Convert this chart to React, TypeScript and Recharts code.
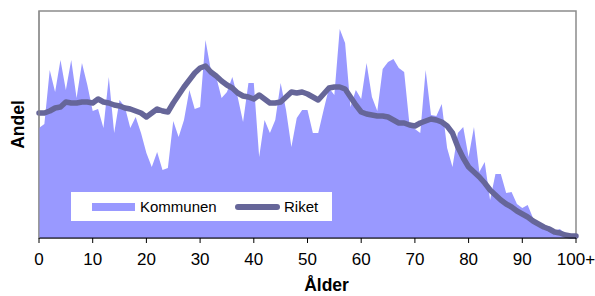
import { ComposedChart, Area, Line, XAxis, YAxis, Legend, ReferenceArea } from "recharts";

// andel per ålder 0..100+ (godtycklig skala)
const kommunen = [
  110, 114, 168, 146, 178, 148, 178, 140, 175, 153,
  127, 129, 110, 161, 105, 138, 131, 110, 121, 105,
  85, 71, 86, 68, 70, 117, 101, 118, 148, 129,
  131, 198, 168, 161, 140, 146, 161, 141, 116, 155,
  155, 81, 118, 105, 118, 155, 128, 91, 120, 128,
  128, 105, 105, 128, 150, 143, 209, 195, 131, 148,
  139, 175, 141, 127, 169, 176, 179, 170, 166, 113,
  109, 105, 168, 123, 122, 134, 90, 71, 105, 111,
  81, 111, 66, 76, 38, 64, 64, 45, 46, 34,
  30, 33, 20, 15, 11, 12, 7, 9, 4, 3,
  1,
];

const riket = [
  125, 125, 127, 130, 131, 136, 135, 135, 136, 136,
  135, 139, 136, 135, 133, 132, 130, 129, 127, 125,
  121, 125, 129, 127, 126, 135, 143, 151, 158, 165,
  170, 172, 166, 162, 157, 153, 150, 145, 142, 141,
  139, 143, 139, 135, 135, 136, 141, 146, 145, 146,
  144, 141, 138, 144, 150, 151, 151, 149, 141, 133,
  126, 124, 123, 122, 122, 121, 118, 115, 115, 113,
  112, 115, 117, 119, 118, 116, 112, 105, 91, 80,
  71, 66, 61, 55, 48, 43, 38, 34, 31, 27,
  24, 21, 17, 14, 11, 9, 6, 5, 3, 2,
  2,
];

const xTicks = [0, 10, 20, 30, 40, 50, 60, 70, 80, 90, 100];
const xTickLabels = ["0", "10", "20", "30", "40", "50", "60", "70", "80", "90", "100+"];

const data = kommunen.map((k, i) => ({ age: i, Kommunen: k, Riket: riket[i] }));

const FONT = '"Liberation Sans", Arial, sans-serif';
const AREA_COLOR = "#9999ff";
const LINE_COLOR = "#666699";
const BORDER = "#8c8c8c";
const Y_MAX = 227;

function LegendBox() {
  return (
    <div
      style={{
        position: "relative",
        width: 261,
        height: 29,
        background: "#fff",
        fontFamily: FONT,
        fontSize: 15,
        color: "#000",
      }}
    >
      <span style={{ position: "absolute", left: 21, top: 11, width: 43, height: 8, background: AREA_COLOR }} />
      <span style={{ position: "absolute", left: 69, top: 6, lineHeight: "17px" }}>Kommunen</span>
      <span
        style={{
          position: "absolute",
          left: 164,
          top: 12,
          width: 45,
          height: 6,
          borderRadius: 3,
          background: LINE_COLOR,
        }}
      />
      <span style={{ position: "absolute", left: 213, top: 6, lineHeight: "17px" }}>Riket</span>
    </div>
  );
}

export default function App() {
  return (
    <div style={{ position: "absolute", left: 0, top: 0, width: 595, height: 296, background: "#fff" }}>
      <ComposedChart
        width={595}
        height={296}
        data={data}
        margin={{ top: 11, right: 19, left: 0, bottom: 0 }}
        style={{ fontFamily: FONT }}
      >
        {/* ram runt ritytan */}
        <ReferenceArea
          x1={0}
          x2={100}
          y1={0}
          y2={Y_MAX}
          fill="none"
          stroke={BORDER}
          strokeWidth={1.5}
          ifOverflow="visible"
        />
        <Area
          type="linear"
          dataKey="Kommunen"
          fill={AREA_COLOR}
          fillOpacity={1}
          stroke="none"
          isAnimationActive={false}
        />
        <Line
          type="linear"
          dataKey="Riket"
          stroke={LINE_COLOR}
          strokeWidth={5.5}
          strokeLinejoin="round"
          strokeLinecap="round"
          dot={false}
          activeDot={false}
          isAnimationActive={false}
        />
        <XAxis
          dataKey="age"
          type="number"
          domain={[0, 100]}
          ticks={xTicks}
          interval={0}
          tickFormatter={(v: number) => xTickLabels[xTicks.indexOf(v)]}
          tick={{ fill: "#000", fontSize: 17 }}
          tickSize={5}
          tickMargin={10}
          tickLine={{ stroke: "#000" }}
          axisLine={{ stroke: "#000" }}
          height={58}
          label={{
            value: "Ålder",
            position: "insideBottom",
            offset: 5,
            dx: 19,
            style: { fill: "#000", fontSize: 17.5, fontWeight: "bold" },
          }}
        />
        <YAxis
          domain={[0, Y_MAX]}
          width={39}
          tick={false}
          tickLine={false}
          axisLine={{ stroke: BORDER }}
          label={{
            value: "Andel",
            angle: -90,
            position: "center",
            dx: -2,
            style: { fill: "#000", fontSize: 17.5, fontWeight: "bold" },
          }}
        />
        <Legend
          layout="horizontal"
          verticalAlign="middle"
          align="center"
          content={() => <LegendBox />}
          wrapperStyle={{ left: 71, top: 192, width: 261, height: 29 }}
        />
      </ComposedChart>
    </div>
  );
}
